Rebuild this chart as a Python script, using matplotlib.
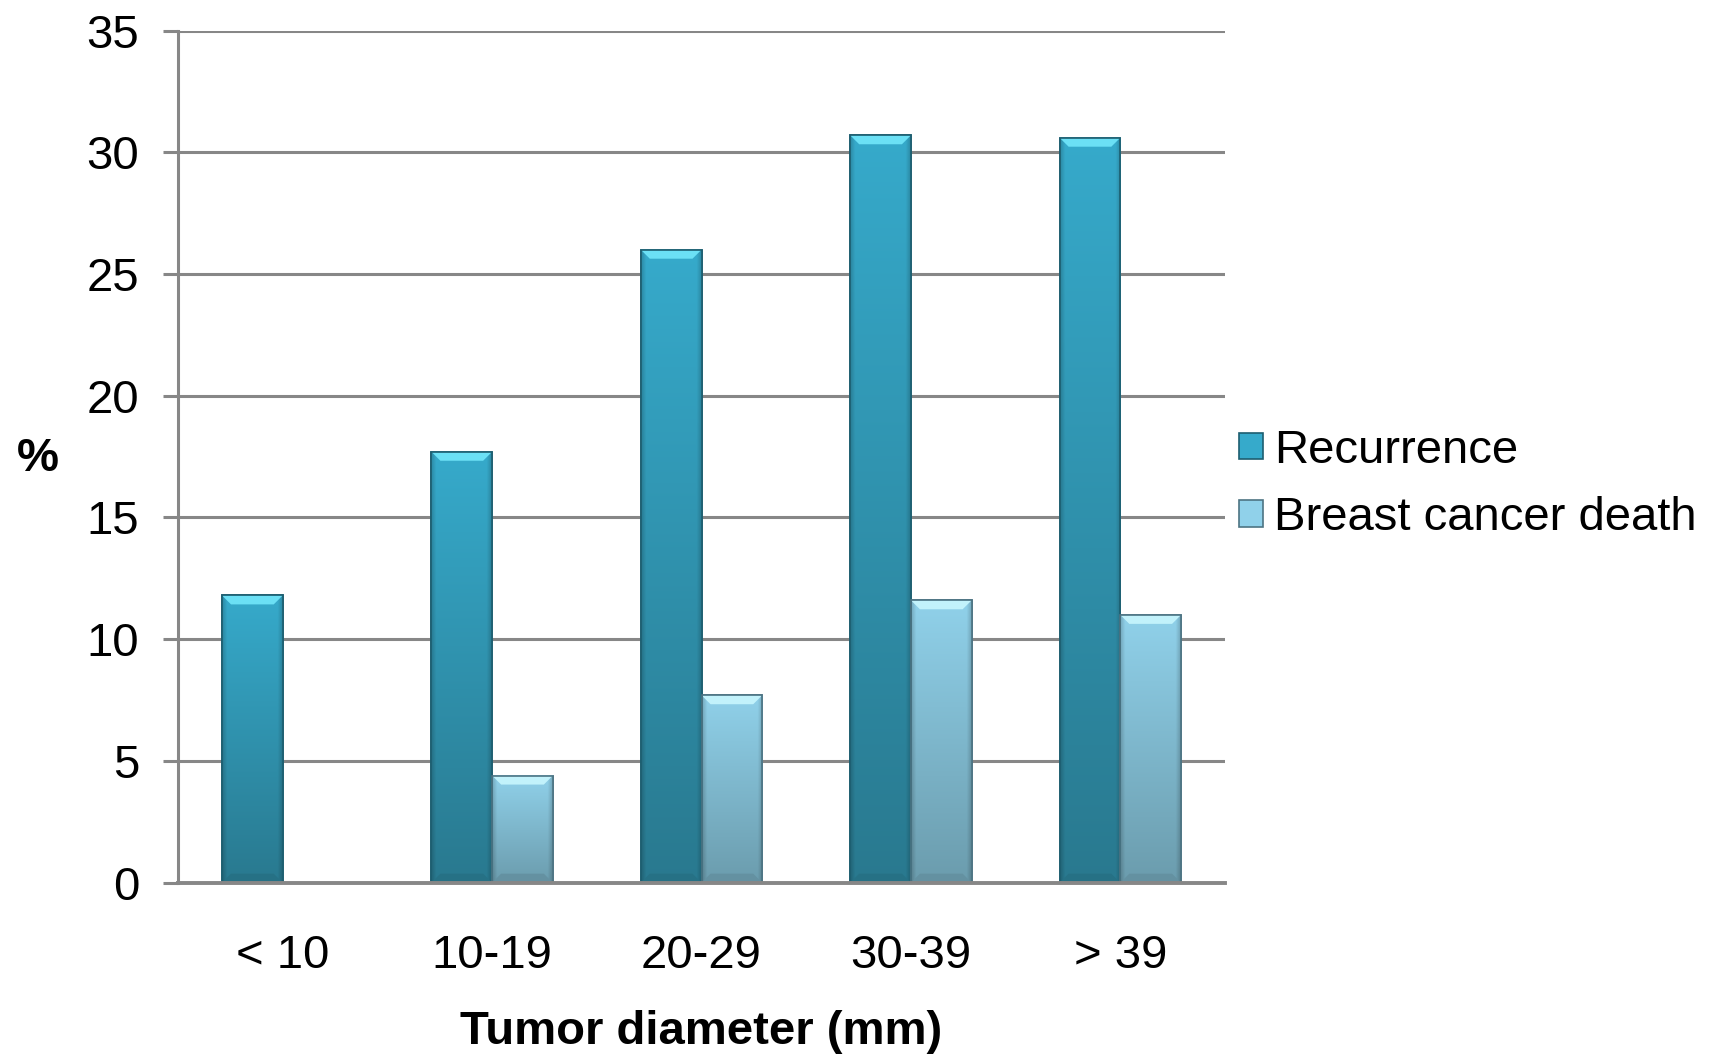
import numpy as np
import matplotlib.pyplot as plt
from matplotlib.colors import to_rgb
from matplotlib.patches import Polygon

categories = ["< 10", "10-19", "20-29", "30-39", "> 39"]
recurrence = [11.8, 17.7, 26.0, 30.7, 30.6]
bc_death = [0.0, 4.4, 7.7, 11.6, 11.0]
series = ["Recurrence", "Breast cancer death"]

plt.rcParams['font.family'] = ['Liberation Sans', 'DejaVu Sans']

fig = plt.figure(figsize=(17.15, 10.58), dpi=100)
ax = fig.add_axes([0.1038, 0.1657, 0.6105, 0.8054])

x = np.arange(len(categories))
w = 0.29
ymax = 35
fs = 34

# (top colour, bottom colour, bevel highlight, edge)
styles = [("#36aacb", "#29798f", "#6be0f5", "#1d5e70"),
          ("#90d1ea", "#6b9cad", "#c2f2fb", "#4d7483")]

bars_r = ax.bar(x - w / 2, recurrence, w, color=styles[0][0], edgecolor=styles[0][3],
                linewidth=1.2, label=series[0], zorder=2)
bars_d = ax.bar(x + w / 2, bc_death, w, color=styles[1][0], edgecolor=styles[1][3],
                linewidth=1.2, label=series[1], zorder=2)

ax.set_xlim(-0.5, len(categories) - 0.5)
ax.set_ylim(0, ymax)

# pixel -> data conversions for bevel sizes
ax_w_px = ax.get_position().width * fig.get_figwidth() * fig.dpi
ax_h_px = ax.get_position().height * fig.get_figheight() * fig.dpi
px_x = len(categories) / ax_w_px
px_y = ymax / ax_h_px


def shade(bar, top, bottom, hi, edge):
    x0 = bar.get_x()
    x1 = x0 + bar.get_width()
    h = bar.get_height()
    if h <= 0:
        return
    top, bottom, hi, edge = map(np.array, map(to_rgb, (top, bottom, hi, edge)))
    ny, nx = 200, 60
    t = np.linspace(0, 1, ny)[:, None, None]
    img = top * (1 - t) + bottom * t
    img = np.repeat(img, nx, axis=1)
    # darker sides
    s = np.linspace(0, 1, nx)
    side = np.clip(np.minimum(s, 1 - s) / 0.08, 0, 1)[None, :, None]
    img = img * (0.82 + 0.18 * side)
    ax.imshow(img, extent=[x0, x1, 0, h], aspect='auto', origin='upper',
              interpolation='bilinear', zorder=2.5)
    # top bevel
    bh = 9 * px_y
    bw = 9 * px_x
    ax.add_patch(Polygon([[x0, h], [x1, h], [x1 - bw, h - bh], [x0 + bw, h - bh]],
                         closed=True, facecolor=hi, edgecolor='none', zorder=2.6))
    # bottom bevel
    ax.add_patch(Polygon([[x0, 0], [x1, 0], [x1 - bw, bh], [x0 + bw, bh]],
                         closed=True, facecolor=bottom * 0.93, edgecolor='none', zorder=2.6))
    ax.add_patch(plt.Rectangle((x0, 0), x1 - x0, h, fill=False, edgecolor=edge,
                               linewidth=1.2, zorder=2.7))


for b in bars_r:
    shade(b, *styles[0])
for b in bars_d:
    shade(b, *styles[1])

ax.set_yticks(range(0, ymax + 1, 5))
ax.yaxis.grid(True, color='#878787', linewidth=2.2)
ax.set_axisbelow(True)
for s in ['top', 'right']:
    ax.spines[s].set_visible(False)
ax.spines['left'].set_color('#878787')
ax.spines['left'].set_linewidth(2.2)
ax.spines['bottom'].set_color('#878787')
ax.spines['bottom'].set_linewidth(2.8)
ax.spines['bottom'].set_zorder(3)
ax.tick_params(axis='y', length=11, width=2.2, color='#878787', labelsize=fs, pad=17)
ax.tick_params(axis='x', length=0, labelsize=fs, pad=37)
ax.set_xticks(x)
ax.set_xticklabels(categories)

ax.set_xlabel("Tumor diameter (mm)", fontsize=fs, fontweight='bold', labelpad=23)
fig.text(0.022, 0.566, "%", fontsize=fs, fontweight='bold', ha='center', va='center')

leg = fig.legend(loc='center left', bbox_to_anchor=(0.7224, 0.542), frameon=False,
                 fontsize=fs, handlelength=0.5, handleheight=0.5, handletextpad=0.25,
                 labelspacing=0.5, borderpad=0, borderaxespad=0)

fig.savefig("out.png", dpi=100, facecolor='white')
